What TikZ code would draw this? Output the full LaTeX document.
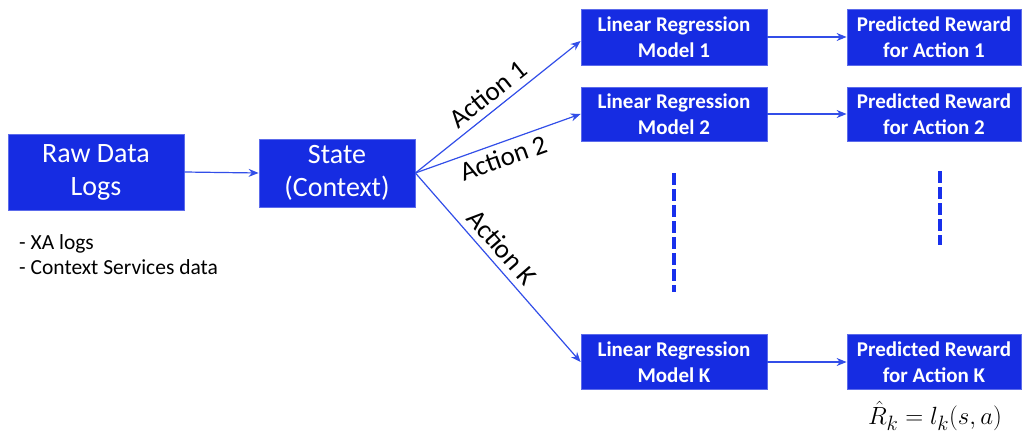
\documentclass[tikz,border=0pt]{standalone}
\usepackage{fontspec}
\setmainfont{Carlito}
\usetikzlibrary{arrows.meta,calc}
\definecolor{boxblue}{RGB}{22,44,226}
\definecolor{lineblue}{RGB}{50,78,232}
\definecolor{dashblue}{RGB}{24,48,236}
\tikzset{
  blk/.style={rectangle, fill=boxblue, draw=boxblue!70!white, line width=0.8pt,
    text=white, align=center, inner sep=0pt},
  bigbox/.style={blk, font=\fontsize{28}{33}\selectfont},
  smallbox/.style={blk, font=\fontsize{21}{26}\selectfont\bfseries,
    minimum height=56pt},
  conn/.style={draw=lineblue, line width=1.2pt,
    -{Stealth[length=10pt,width=8pt]}},
  actlabel/.style={font=\fontsize{27}{30}\selectfont, text=black, sloped},
  vdash/.style={draw=dashblue, line width=3.2pt, dash pattern=on 12pt off 4pt},
}
\begin{document}
\begin{tikzpicture}[x=1pt,y=-1pt]
\useasboundingbox (0,0) rectangle (1024,433);

% input stages
\node[bigbox, minimum width=176pt, minimum height=76pt] (raw) at (96,172) {Raw Data\\Logs};
\node[bigbox, minimum width=156pt, minimum height=68pt] (state) at (337,173) {State\\(Context)};

% source notes
\node[anchor=north west, align=left, font=\fontsize{21.5}{25}\selectfont,
  inner sep=0pt] (notes) at (19,234) {- XA logs\\- Context Services data};

% per-action models
\node[smallbox, minimum width=186pt] (lr1) at (674,37) {Linear Regression\\Model 1};
\node[smallbox, minimum width=186pt, minimum height=54pt] (lr2) at (674,114) {Linear Regression\\Model 2};
\node[smallbox, minimum width=186pt, minimum height=55pt] (lrk) at (674,362) {Linear Regression\\Model K};

% predicted rewards
\node[smallbox, minimum width=174pt] (pr1) at (934,37) {Predicted Reward\\for Action 1};
\node[smallbox, minimum width=174pt, minimum height=54pt] (pr2) at (934,114) {Predicted Reward\\for Action 2};
\node[smallbox, minimum width=174pt, minimum height=55pt] (prk) at (934,362) {Predicted Reward\\for Action K};

% reward formula
\node[font=\fontsize{29}{32}\selectfont, inner sep=0pt] (formula) at (935,416) {$\hat{R}_k = l_k(s,a)$};

% connectors
\draw[conn] (raw.east) -- (state.west);
\draw[conn] (state.east) -- ($(lr1.west)+(0,4)$)
  node[actlabel, above=3pt, pos=0.5] (a1) {Action 1};
\draw[conn] (state.east) -- (lr2.west)
  node[actlabel, below=2pt, pos=0.5] (a2) {Action 2};
\draw[conn] (state.east) -- (lrk.west)
  node[actlabel, above=3pt, pos=0.45] (ak) {Action K};
\draw[conn] (lr1.east) -- (pr1.west);
\draw[conn] (lr2.east) -- (pr2.west);
\draw[conn] (lrk.east) -- (prk.west);

% ellipsis between model rows
\coordinate (d1a) at (674,173);
\coordinate (d1b) at (674,292);
\coordinate (d2a) at (940,171);
\coordinate (d2b) at (940,245);
\draw[vdash] (d1a) -- (d1b);
\draw[vdash] (d2a) -- (d2b);
\end{tikzpicture}
\end{document}
